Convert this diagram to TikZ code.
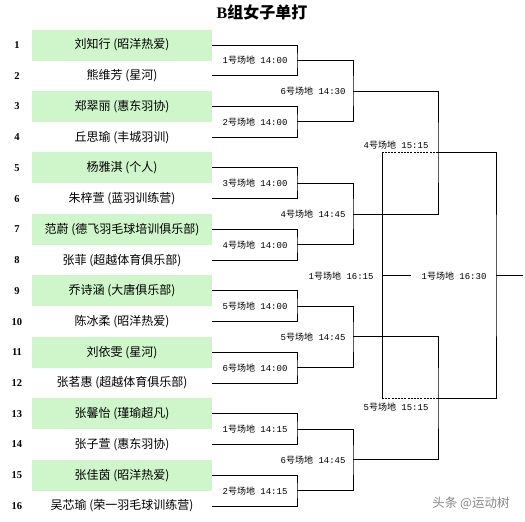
\documentclass[tikz,border=0pt]{standalone}
\usepackage{fontspec}
\setmainfont{Noto Sans CJK SC}
\newfontfamily\monof{Liberation Mono}
\newfontfamily\serifb{Liberation Serif}
\usetikzlibrary{calc}
\definecolor{boxgreen}{RGB}{206,246,202}
\definecolor{wmgray}{RGB}{135,135,135}
\newcommand{\courttxt}[2]{{\monof #1}号场地{\monof\ #2}}
\begin{document}
\begin{tikzpicture}[x=1pt,y=-1pt, line width=0.9pt,
  player/.style={minimum width=180pt, minimum height=31pt, inner sep=0pt, font=\fontsize{12}{14}\selectfont},
  seeded/.style={player, fill=boxgreen},
  num/.style={font=\serifb\bfseries\fontsize{10.5}{12}\selectfont, inner sep=0pt},
  court/.style={font=\fontsize{9}{10}\selectfont, inner sep=0pt},
  dotline/.style={dash pattern=on 2pt off 1.2pt}]
\useasboundingbox (0,0) rectangle (525,522);

% title
\node[font=\bfseries\fontsize{16}{18}\selectfont, inner sep=0pt] (title) at (262,12.5) {{\serifb\bfseries B}组女子单打};

% players
\foreach \i/\y/\st/\txt in {
  1/45.00/seeded/{刘知行 (昭洋热爱)},
  2/75.73/player/{熊维芳 (星河)},
  3/106.46/seeded/{郑翠丽 (惠东羽协)},
  4/137.19/player/{丘思瑜 (丰城羽训)},
  5/167.92/seeded/{杨雅淇 (个人)},
  6/198.65/player/{朱梓萱 (蓝羽训练营)},
  7/229.38/seeded/{范蔚 (德飞羽毛球培训俱乐部)},
  8/260.11/player/{张菲 (超越体育俱乐部)},
  9/290.84/seeded/{乔诗涵 (大唐俱乐部)},
  10/321.57/player/{陈冰柔 (昭洋热爱)},
  11/352.30/seeded/{刘依雯 (星河)},
  12/383.03/player/{张茗惠 (超越体育俱乐部)},
  13/413.76/seeded/{张馨怡 (瑾瑜超凡)},
  14/444.49/player/{张子萱 (惠东羽协)},
  15/475.22/seeded/{张佳茵 (昭洋热爱)},
  16/505.95/player/{吴芯瑜 (荣一羽毛球训练营)}}
{
  \node[\st] (p\i) at (122,\y) {\txt};
  \node[num] (n\i) at (17,\y) {\i};
}

% junction coordinates
\foreach \k/\y in {1/60.37,2/121.83,3/183.29,4/244.75,5/306.21,6/367.67,7/429.13,8/490.59}
  \coordinate (a\k) at (297,\y);
\foreach \k/\y in {1/91.10,2/214.02,3/336.94,4/459.86}
  \coordinate (b\k) at (353,\y);
\coordinate (c1) at (438,152.56);
\coordinate (c2) at (438,398.40);
\coordinate (f) at (496,275.48);
\coordinate (fout) at (523,275.48);
\coordinate (t) at (382,275.48);
\coordinate (tout) at (411,275.48);

% round 1
\foreach \u/\v/\m in {1/2/1,3/4/2,5/6/3,7/8/4,9/10/5,11/12/6,13/14/7,15/16/8}
  \draw (p\u.east) -| (a\m) |- (p\v.east);
% round 2
\draw (a1) -| (b1) |- (a2);
\draw (a3) -| (b2) |- (a4);
\draw (a5) -| (b3) |- (a6);
\draw (a7) -| (b4) |- (a8);
% round 3
\draw (b1) -| (c1) |- (b2);
\draw (b3) -| (c2) |- (b4);
% final
\draw (c1) -| (f) |- (c2);
\draw (f) -- (fout);
% third place
\draw[dotline] (c1) -- (t |- c1);
\draw (t |- c1) -- (t |- c2);
\draw[dotline] (t |- c2) -- (c2);
\draw (t) -- (tout);

% court labels round 1
\foreach \k/\c/\tm in {1/1/14:00,2/2/14:00,3/3/14:00,4/4/14:00,5/5/14:00,6/6/14:00,7/1/14:15,8/2/14:15}
  \node[court] (la\k) at (255,0 |- a\k) {\courttxt{\c}{\tm}};
% round 2
\foreach \k/\c/\tm in {1/6/14:30,2/4/14:45,3/5/14:45,4/6/14:45}
  \node[court, anchor=east] (lb\k) at (346,0 |- b\k) {\courttxt{\c}{\tm}};
% semis
\node[court] (lc1) at (396,145) {\courttxt{4}{15:15}};
\node[court] (lc2) at (396,407) {\courttxt{5}{15:15}};
% third place and final
\node[court, anchor=east] (lt) at (374,276) {\courttxt{1}{16:15}};
\node[court] (lf) at (454,276) {\courttxt{1}{16:30}};

% watermark
\node[font=\fontsize{12.5}{14}\selectfont, text=wmgray, inner sep=0pt] (wm) at (471,503) {头条 @运动树};
\end{tikzpicture}
\end{document}
